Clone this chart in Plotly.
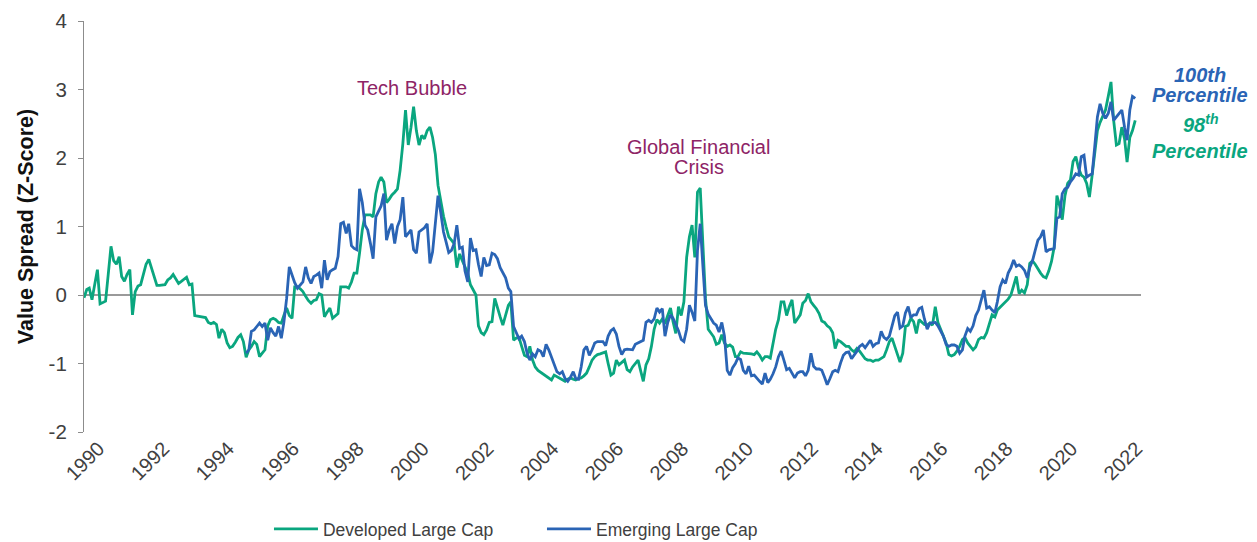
import pandas as pd
import plotly.graph_objects as go

# Monthly value spread (z-score), Jan 1990 - Jun 2022
developed = [
    -0.04, 0.08, 0.10, -0.07, 0.15, 0.37, -0.13, -0.11, -0.09, 0.30, 0.71, 0.50,   # 1990
    0.45, 0.56, 0.27, 0.20, 0.30, 0.37, -0.29, 0.05, 0.13, 0.15, 0.30, 0.45,       # 1991
    0.52, 0.38, 0.25, 0.14, 0.14, 0.15, 0.15, 0.22, 0.25, 0.30, 0.24, 0.17,        # 1992
    0.20, 0.23, 0.26, 0.15, 0.16, -0.30, -0.31, -0.32, -0.32, -0.33, -0.40, -0.42, # 1993
    -0.40, -0.43, -0.63, -0.50, -0.55, -0.70, -0.77, -0.75, -0.69, -0.62, -0.58, -0.68,  # 1994
    -0.91, -0.80, -0.75, -0.68, -0.72, -0.90, -0.85, -0.80, -0.45, -0.36, -0.34, -0.36,  # 1995
    -0.40, -0.41, -0.30, -0.19, -0.30, -0.34, 0.12, 0.12, 0.09, 0.05, -0.02, -0.08,      # 1996
    -0.12, -0.08, -0.07, 0.02, 0.00, -0.32, -0.25, -0.19, -0.34, -0.30, -0.27, 0.12,     # 1997
    0.12, 0.12, 0.10, 0.19, 0.32, 0.32, 0.61, 0.95, 1.17, 1.17, 1.17, 1.14,              # 1998
    1.48, 1.65, 1.72, 1.65, 1.35, 1.40, 1.46, 1.50, 1.55, 1.82, 2.21, 2.70,              # 1999
    2.19, 2.45, 2.75, 2.40, 2.19, 2.33, 2.28, 2.40, 2.45, 2.30, 2.05, 1.60,              # 2000
    1.35, 1.15, 1.00, 0.85, 0.80, 0.75, 0.40, 0.60, 0.50, 0.40, 0.32, 0.15,              # 2001
    0.07, 0.00, -0.45, -0.55, -0.58, -0.51, -0.40, -0.39, -0.05, -0.20, -0.32, -0.44,    # 2002
    -0.30, -0.15, -0.10, -0.66, -0.63, -0.62, -0.75, -0.88, -0.90, -0.75, -0.95, -1.05,  # 2003
    -1.10, -1.13, -1.15, -1.18, -1.22, -1.24, -1.17, -1.19, -1.21, -1.23, -1.26, -1.23,  # 2004
    -1.21, -1.23, -1.24, -1.22, -1.21, -1.18, -1.14, -1.05, -0.95, -0.90, -0.87, -0.86,  # 2005
    -0.85, -0.83, -1.00, -1.17, -1.14, -0.95, -1.02, -0.98, -0.95, -1.09, -1.12, -1.05,  # 2006
    -1.00, -0.95, -1.10, -1.26, -1.02, -0.93, -0.75, -0.50, -0.36, -0.41, -0.35, -0.42,  # 2007
    -0.30, -0.19, -0.39, -0.56, -0.17, -0.30, -0.10, 0.55, 0.85, 1.02, 0.55, 1.50,       # 2008
    1.56, 0.80, -0.05, -0.50, -0.55, -0.61, -0.72, -0.70, -0.58, -0.70, -0.75, -0.73,    # 2009
    -0.76, -0.90, -0.90, -0.83, -0.85, -0.85, -0.85, -0.86, -0.87, -0.83, -0.88, -0.95,  # 2010
    -0.90, -0.90, -0.92, -0.70, -0.50, -0.36, -0.10, -0.10, -0.30, -0.17, -0.07, -0.41,  # 2011
    -0.35, -0.29, -0.12, -0.08, 0.02, -0.10, -0.15, -0.20, -0.27, -0.38, -0.40, -0.45,   # 2012
    -0.48, -0.55, -0.78, -0.66, -0.68, -0.72, -0.75, -0.75, -0.80, -0.83, -0.78, -0.82,  # 2013
    -0.88, -0.93, -0.95, -0.95, -0.97, -0.95, -0.95, -0.92, -0.90, -0.80, -0.68, -0.63,  # 2014
    -0.75, -0.85, -0.98, -0.85, -0.46, -0.44, -0.34, -0.39, -0.56, -0.36, -0.40, -0.43,  # 2015
    -0.44, -0.41, -0.44, -0.17, -0.40, -0.50, -0.58, -0.70, -0.87, -0.89, -0.87, -0.82,  # 2016
    -0.75, -0.65, -0.62, -0.70, -0.75, -0.80, -0.76, -0.65, -0.62, -0.63, -0.55, -0.42,  # 2017
    -0.29, -0.32, -0.22, -0.18, -0.14, -0.10, -0.06, 0.00, 0.15, 0.27, 0.02, 0.07,       # 2018
    0.03, 0.15, 0.46, 0.50, 0.45, 0.38, 0.32, 0.27, 0.25, 0.35, 0.49, 0.70,              # 2019
    1.45, 1.30, 1.10, 1.45, 1.63, 1.68, 1.95, 2.02, 1.85, 1.75, 1.72, 1.63,              # 2020
    1.43, 1.75, 2.10, 2.40, 2.52, 2.60, 2.70, 2.90, 3.11, 2.55, 2.19, 2.21,              # 2021
    2.45, 2.28, 1.94, 2.30, 2.40, 2.55,                                                  # 2022
]

# Monthly value spread (z-score), Jan 1995 - Jun 2022
emerging = [
    -0.85, -0.80, -0.53, -0.51, -0.46, -0.41, -0.46, -0.41, -0.66, -0.48, -0.55, -0.60,  # 1995
    -0.46, -0.63, -0.40, -0.05, 0.41, 0.28, 0.18, 0.10, 0.15, 0.19, 0.41, 0.25,          # 1996
    0.17, 0.27, 0.29, 0.32, 0.10, 0.51, 0.22, 0.34, 0.37, 0.39, 0.56, 1.04,              # 1997
    1.06, 0.90, 1.04, 0.72, 0.68, 0.66, 1.55, 1.35, 1.02, 0.95, 0.75, 0.53,              # 1998
    1.14, 1.22, 1.30, 1.48, 0.80, 0.95, 1.04, 0.75, 1.00, 1.10, 1.43, 0.85,              # 1999
    0.90, 0.95, 0.66, 0.61, 0.92, 0.95, 0.98, 1.04, 0.46, 0.63, 1.10, 1.45,              # 2000
    1.20, 0.92, 0.78, 0.62, 0.65, 0.75, 1.02, 0.68, 0.70, 0.35, 0.19, 0.83,              # 2001
    0.65, 0.66, 0.45, 0.27, 0.55, 0.43, 0.44, 0.61, 0.59, 0.53, 0.40, 0.33,              # 2002
    0.25, 0.10, 0.05, -0.46, -0.56, -0.64, -0.60, -0.68, -0.85, -0.95, -0.86, -0.90,     # 2003
    -0.80, -0.82, -0.90, -0.72, -0.80, -0.90, -1.02, -1.12, -1.15, -1.12, -1.22, -1.26,  # 2004
    -1.20, -1.12, -1.22, -1.23, -1.05, -0.80, -0.75, -0.88, -0.80, -0.70, -0.68, -0.68,  # 2005
    -0.68, -0.74, -0.60, -0.52, -0.49, -0.57, -0.75, -0.87, -0.80, -0.79, -0.79, -0.80,  # 2006
    -0.72, -0.70, -0.68, -0.66, -0.40, -0.37, -0.40, -0.35, -0.19, -0.25, -0.20, -0.60,  # 2007
    -0.40, -0.29, -0.34, -0.42, -0.52, -0.65, -0.68, -0.50, -0.15, -0.25, -0.38, 0.65,   # 2008
    1.04, 0.40, -0.15, -0.28, -0.35, -0.41, -0.44, -0.54, -0.40, -0.60, -1.10, -1.17,    # 2009
    -1.06, -1.00, -0.92, -0.94, -1.10, -1.15, -1.04, -1.18, -1.17, -1.22, -1.26, -1.30,  # 2010
    -1.14, -1.28, -1.23, -1.15, -1.05, -0.90, -0.82, -0.95, -1.09, -1.07, -1.15, -1.21,  # 2011
    -1.14, -1.12, -1.12, -1.18, -1.10, -0.85, -1.04, -1.08, -1.08, -1.10, -1.20, -1.31,  # 2012
    -1.22, -1.12, -1.10, -1.12, -0.99, -0.88, -0.84, -0.83, -0.93, -0.88, -0.82, -0.75,  # 2013
    -0.72, -0.77, -0.72, -0.66, -0.75, -0.71, -0.70, -0.53, -0.62, -0.65, -0.60, -0.45,  # 2014
    -0.30, -0.25, -0.48, -0.45, -0.26, -0.17, -0.33, -0.29, -0.29, -0.20, -0.18, -0.35,  # 2015
    -0.50, -0.41, -0.40, -0.40, -0.45, -0.53, -0.60, -0.72, -0.75, -0.73, -0.73, -0.75,  # 2016
    -0.85, -0.80, -0.60, -0.49, -0.53, -0.45, -0.30, -0.22, -0.05, 0.07, -0.19, -0.17,   # 2017
    -0.22, -0.26, -0.10, 0.12, 0.22, 0.17, 0.32, 0.40, 0.51, 0.42, 0.44, 0.41,           # 2018
    0.36, 0.25, 0.40, 0.50, 0.65, 0.80, 0.85, 0.95, 0.63, 0.66, 0.67, 0.68,              # 2019
    1.12, 1.14, 1.48, 1.55, 1.57, 1.65, 1.70, 1.77, 1.75, 2.02, 2.04, 1.72,              # 2020
    1.75, 1.77, 2.15, 2.60, 2.79, 2.65, 2.58, 2.65, 2.82, 2.55, 2.60, 2.65,              # 2021
    2.70, 2.45, 2.26, 2.70, 2.90, 2.87,                                                  # 2022
]

series_names = ["Developed Large Cap", "Emerging Large Cap"]
series_colors = ["#0AA67F", "#2A64B5"]
tick_years = list(range(1990, 2023, 2))
y_ticks = [-2, -1, 0, 1, 2, 3, 4]
y_ticktext = ["-2", "-1", "0", "1", "2", "3", "4"]

dates_dev = pd.date_range("1990-01-01", periods=len(developed), freq="MS")
dates_em = pd.date_range("1995-01-01", periods=len(emerging), freq="MS")

FONT = "Liberation Sans, Arial, sans-serif"

fig = go.Figure()
fig.add_trace(go.Scatter(x=dates_dev, y=developed, mode="lines", name=series_names[0],
                         line=dict(color=series_colors[0], width=2.8)))
fig.add_trace(go.Scatter(x=dates_em, y=emerging, mode="lines", name=series_names[1],
                         line=dict(color=series_colors[1], width=2.8)))

fig.update_layout(
    width=1257, height=542,
    margin=dict(l=84, r=116, t=21, b=110, autoexpand=False),
    plot_bgcolor="white", paper_bgcolor="white",
    font=dict(family=FONT, color="#404040"),
    showlegend=True,
    legend=dict(orientation="h", x=0.175, xanchor="left", y=-0.236, yanchor="middle",
                font=dict(size=17.5, color="#404040"), itemwidth=44,
                entrywidth=214, entrywidthmode="pixels",
                bgcolor="rgba(0,0,0,0)"),
    xaxis=dict(
        type="date",
        range=["1990-01-01", "2022-08-05"],
        tickvals=[f"{y}-06-15" for y in tick_years],
        ticktext=[str(y) for y in tick_years],
        tickangle=-45,
        tickfont=dict(size=20, color="#404040"),
        showgrid=False, showline=False, ticks="", zeroline=False,
        automargin=False,
    ),
    yaxis=dict(
        range=[-2, 4],
        tickvals=y_ticks,
        ticktext=y_ticktext,
        tickfont=dict(size=20.5, color="#404040"),
        ticklabelstandoff=7,
        showgrid=False,
        showline=True, linecolor="#8c8c8c", linewidth=1.2,
        ticks="outside", ticklen=5, tickcolor="#8c8c8c",
        zeroline=True, zerolinecolor="#9a9a9a", zerolinewidth=1.5,
        automargin=False,
        title=dict(text="<b>Value Spread (Z-Score)</b>", font=dict(size=21.5, color="#111111"), standoff=9),
    ),
)

ann_color = "#8E2466"
fig.add_annotation(x="2000-02-15", y=3.02, xref="x", yref="y", text="Tech Bubble",
                   showarrow=False, font=dict(size=20, color=ann_color, family=FONT))
fig.add_annotation(x="2008-12-13", y=2.16, xref="x", yref="y", text="Global Financial",
                   showarrow=False, font=dict(size=20, color=ann_color, family=FONT))
fig.add_annotation(x="2008-12-13", y=1.87, xref="x", yref="y", text="Crisis",
                   showarrow=False, font=dict(size=20, color=ann_color, family=FONT))

pct_lines = [
    ("<b><i>100th</i></b>", 0.869, series_colors[1]),
    ("<b><i>Percentile</i></b>", 0.820, series_colors[1]),
    ("<b><i>98<sup>th</sup></i></b>", 0.750, series_colors[0]),
    ("<b><i>Percentile</i></b>", 0.684, series_colors[0]),
]
for txt, yp, col in pct_lines:
    fig.add_annotation(x=1.056, y=yp, xref="paper", yref="paper", xanchor="center", yanchor="middle",
                       text=txt, showarrow=False, font=dict(size=20, color=col, family=FONT))

fig.write_html("out.html", config={"displayModeBar": False},
               post_script="document.body.style.margin='0px';")
